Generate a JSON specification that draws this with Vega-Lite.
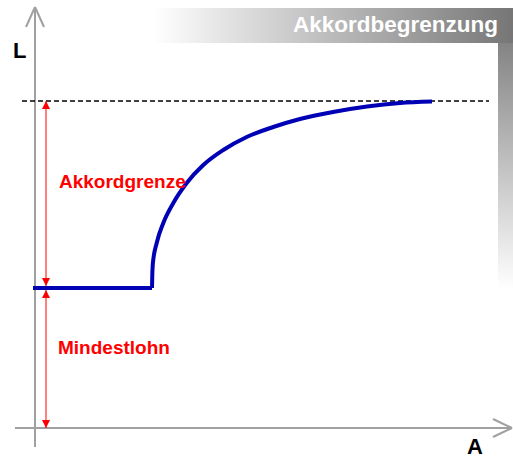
{
  "$schema": "https://vega.github.io/schema/vega-lite/v6.json",
  "width": 513,
  "height": 459,
  "autosize": {"type": "none"},
  "padding": 0,
  "background": "#ffffff",
  "config": {"view": {"stroke": null}},
  "datasets": {
    "panels": [
      {"part": "title", "A0": 118, "A1": 478, "L0": 385, "L1": 420},
      {"part": "side", "A0": 463, "A1": 478, "L0": 138, "L1": 385}
    ],
    "axes": [
      {"A0": 0, "L0": -19, "A1": 0, "L1": 421},
      {"A0": 0, "L0": 421, "A1": -9, "L1": 401},
      {"A0": 0, "L0": 421, "A1": 9, "L1": 401},
      {"A0": -20, "L0": 0, "A1": 477, "L1": 0},
      {"A0": 477, "L0": 0, "A1": 458, "L1": 9},
      {"A0": 477, "L0": 0, "A1": 458, "L1": -9}
    ],
    "limit": [{"A0": -13, "A1": 454, "L": 327}],
    "curve": [
      {"seg": "flat", "A": -2, "L": 140},
      {"seg": "flat", "A": 117, "L": 140},
      {"seg": "rise", "A": 117, "L": 140},
      {"seg": "rise", "A": 117.3, "L": 153},
      {"seg": "rise", "A": 117.9, "L": 165},
      {"seg": "rise", "A": 121.7, "L": 185},
      {"seg": "rise", "A": 128.3, "L": 205},
      {"seg": "rise", "A": 138.3, "L": 225},
      {"seg": "rise", "A": 151.7, "L": 245},
      {"seg": "rise", "A": 168.3, "L": 263},
      {"seg": "rise", "A": 188.3, "L": 278},
      {"seg": "rise", "A": 211.7, "L": 291},
      {"seg": "rise", "A": 238.3, "L": 301},
      {"seg": "rise", "A": 265, "L": 309},
      {"seg": "rise", "A": 298, "L": 316},
      {"seg": "rise", "A": 332, "L": 321.5},
      {"seg": "rise", "A": 365, "L": 325},
      {"seg": "rise", "A": 397, "L": 326.5}
    ],
    "shafts": [
      {"A": 11, "L0": 327, "L1": 140},
      {"A": 11, "L0": 140, "L1": 0}
    ],
    "headsUp": [{"A": 11, "L": 327}, {"A": 11, "L": 138}],
    "headsDown": [{"A": 11, "L": 142}, {"A": 11, "L": 0}],
    "title": [{"A": 463, "L": 396, "t": "Akkordbegrenzung"}],
    "axisNames": [{"A": -22, "L": 370, "t": "L"}, {"A": 432, "L": -25.5, "t": "A"}],
    "labels": [{"A": 24, "L": 240, "t": "Akkordgrenze"}, {"A": 23, "L": 74, "t": "Mindestlohn"}]
  },
  "resolve": {"scale": {"x": "shared", "y": "shared"}},
  "layer": [
    {
      "data": {"name": "panels"},
      "transform": [{"filter": "datum.part == 'title'"}],
      "mark": {"type": "rect", "fill": {"gradient": "linear", "x1": 0, "y1": 0, "x2": 1, "y2": 0, "stops": [{"offset": 0, "color": "#ffffff"}, {"offset": 1, "color": "#767676"}]}},
      "encoding": {
        "x": {"field": "A0", "type": "quantitative", "scale": {"domain": [-35, 478], "nice": false, "zero": false}, "axis": null},
        "x2": {"field": "A1"},
        "y": {"field": "L0", "type": "quantitative", "scale": {"domain": [-31, 428], "nice": false, "zero": false}, "axis": null},
        "y2": {"field": "L1"}
      }
    },
    {
      "data": {"name": "panels"},
      "transform": [{"filter": "datum.part == 'side'"}],
      "mark": {"type": "rect", "fill": {"gradient": "linear", "x1": 0, "y1": 0, "x2": 0, "y2": 1, "stops": [{"offset": 0, "color": "#848484"}, {"offset": 1, "color": "#ffffff"}]}},
      "encoding": {
        "x": {"field": "A0", "type": "quantitative", "axis": null},
        "x2": {"field": "A1"},
        "y": {"field": "L1", "type": "quantitative", "axis": null},
        "y2": {"field": "L0"}
      }
    },
    {
      "data": {"name": "title"},
      "mark": {"type": "text", "align": "right", "baseline": "alphabetic", "font": "Liberation Sans", "fontWeight": "bold", "fontSize": 22.5, "color": "#ffffff"},
      "encoding": {
        "x": {"field": "A", "type": "quantitative", "axis": null},
        "y": {"field": "L", "type": "quantitative", "axis": null},
        "text": {"field": "t"}
      }
    },
    {
      "data": {"name": "axes"},
      "mark": {"type": "rule", "color": "#a0a0a0", "strokeWidth": 2},
      "encoding": {
        "x": {"field": "A0", "type": "quantitative", "axis": null},
        "x2": {"field": "A1"},
        "y": {"field": "L0", "type": "quantitative", "axis": null},
        "y2": {"field": "L1"}
      }
    },
    {
      "data": {"name": "limit"},
      "mark": {"type": "rule", "color": "#000000", "strokeWidth": 1.6, "strokeDash": [5, 3]},
      "encoding": {
        "x": {"field": "A0", "type": "quantitative", "axis": null},
        "x2": {"field": "A1"},
        "y": {"field": "L", "type": "quantitative", "axis": null}
      }
    },
    {
      "data": {"name": "shafts"},
      "mark": {"type": "rule", "color": "#ff0000", "strokeWidth": 1},
      "encoding": {
        "x": {"field": "A", "type": "quantitative", "axis": null},
        "y": {"field": "L0", "type": "quantitative", "axis": null},
        "y2": {"field": "L1"}
      }
    },
    {
      "data": {"name": "headsUp"},
      "mark": {"type": "point", "shape": "M0,-1L1,1L-1,1Z", "size": 64, "filled": true, "opacity": 1, "color": "#ff0000", "yOffset": 4},
      "encoding": {
        "x": {"field": "A", "type": "quantitative", "axis": null},
        "y": {"field": "L", "type": "quantitative", "axis": null}
      }
    },
    {
      "data": {"name": "headsDown"},
      "mark": {"type": "point", "shape": "M0,1L1,-1L-1,-1Z", "size": 64, "filled": true, "opacity": 1, "color": "#ff0000", "yOffset": -4},
      "encoding": {
        "x": {"field": "A", "type": "quantitative", "axis": null},
        "y": {"field": "L", "type": "quantitative", "axis": null}
      }
    },
    {
      "data": {"name": "curve"},
      "mark": {"type": "line", "color": "#0000b4", "strokeWidth": 4, "interpolate": "monotone", "strokeJoin": "miter", "strokeCap": "butt"},
      "encoding": {
        "x": {"field": "A", "type": "quantitative", "axis": null},
        "y": {"field": "L", "type": "quantitative", "axis": null},
        "detail": {"field": "seg"},
        "order": {"field": "A", "type": "quantitative"}
      }
    },
    {
      "data": {"name": "axisNames"},
      "mark": {"type": "text", "align": "left", "baseline": "alphabetic", "font": "Liberation Sans", "fontWeight": "bold", "fontSize": 22, "color": "#000000"},
      "encoding": {
        "x": {"field": "A", "type": "quantitative", "axis": null},
        "y": {"field": "L", "type": "quantitative", "axis": null},
        "text": {"field": "t"}
      }
    },
    {
      "data": {"name": "labels"},
      "mark": {"type": "text", "align": "left", "baseline": "alphabetic", "font": "Liberation Sans", "fontWeight": "bold", "fontSize": 19, "color": "#ff0000"},
      "encoding": {
        "x": {"field": "A", "type": "quantitative", "axis": null},
        "y": {"field": "L", "type": "quantitative", "axis": null},
        "text": {"field": "t"}
      }
    }
  ]
}
